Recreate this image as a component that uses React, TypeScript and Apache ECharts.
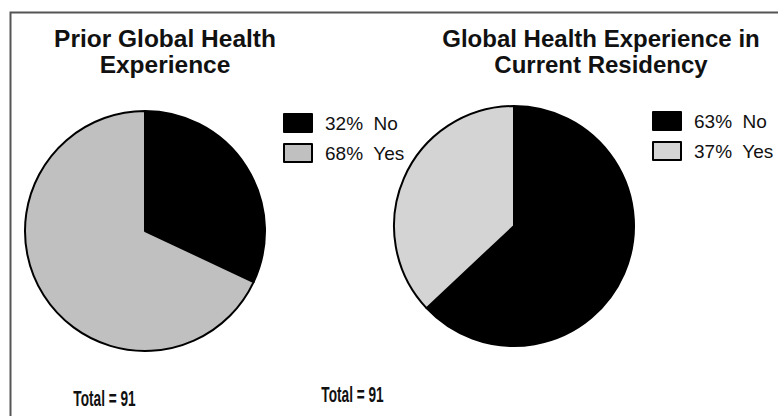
import React, { useEffect, useRef } from "react";
import * as echarts from "echarts";

const titles = ["Prior Global Health\nExperience", "Global Health Experience in\nCurrent Residency"];
const categories = ["No", "Yes"];
const priorPct = [32, 68];
const residencyPct = [63, 37];
const totals = [91, 91];
const priorColors = ["#000000", "#c0c0c0"];
const residencyColors = ["#000000", "#d4d4d4"];

const FONT = "'Liberation Sans', Arial, Helvetica, sans-serif";

function makeData(pcts: number[], colors: string[]) {
  return categories.map((c, i) => ({
    name: `${pcts[i]}%  ${c}`,
    value: pcts[i],
    itemStyle: { color: colors[i] },
  }));
}

export default function App() {
  const ref = useRef<HTMLDivElement>(null);
  useEffect(() => {
    if (!ref.current) return;
    const chart = echarts.init(ref.current, null, { renderer: "svg" });
    const leftData = makeData(priorPct, priorColors);
    const rightData = makeData(residencyPct, residencyColors);
    const titleStyle = {
      fontFamily: FONT,
      fontWeight: "bold" as const,
      fontSize: 24,
      lineHeight: 26,
      color: "#111",
    };
    const legendBase = {
      orient: "vertical" as const,
      icon: "rect",
      itemWidth: 28,
      itemHeight: 18,
      itemGap: 10,
      padding: 0,
      selectedMode: false,
      textStyle: { fontFamily: FONT, fontSize: 19, lineHeight: 19, color: "#111", padding: [0, 0, 0, 8] },
    };
    const seriesBase = {
      type: "pie" as const,
      radius: 120,
      startAngle: 90,
      clockwise: true,
      label: { show: false },
      labelLine: { show: false },
      emphasis: { disabled: true },
      itemStyle: { borderColor: "#000", borderWidth: 2 },
    };
    chart.setOption({
      animation: false,
      backgroundColor: "#ffffff",
      title: [
        { text: titles[0], left: 165, top: 25, textAlign: "center", padding: 0, textStyle: { ...titleStyle, fontSize: 24.5 } },
        { text: titles[1], left: 601, top: 25, textAlign: "center", padding: 0, textStyle: titleStyle },
      ],
      legend: [
        { ...legendBase, left: 283, top: 113, data: leftData.map((d) => d.name) },
        { ...legendBase, left: 652, top: 111, data: rightData.map((d) => d.name) },
      ],
      series: [
        { ...seriesBase, name: "Prior", center: [145, 231], data: leftData },
        { ...seriesBase, name: "Residency", center: [514, 226], data: rightData },
      ],
      graphic: [
        {
          type: "rect",
          shape: { x: 10.5, y: 12.5, width: 800, height: 420 },
          style: { fill: "none", stroke: "#555", lineWidth: 2 },
          silent: true,
        },
        {
          type: "text",
          x: 104.5,
          y: 398,
          scaleX: 0.62,
          style: {
            text: `Total = ${totals[0]}`,
            fontFamily: FONT,
            fontWeight: "bold",
            fontSize: 22,
            fill: "#111",
            textAlign: "center",
            textVerticalAlign: "middle",
          },
        },
        {
          type: "text",
          x: 352.5,
          y: 394,
          scaleX: 0.62,
          style: {
            text: `Total = ${totals[1]}`,
            fontFamily: FONT,
            fontWeight: "bold",
            fontSize: 22,
            fill: "#111",
            textAlign: "center",
            textVerticalAlign: "middle",
          },
        },
      ],
    });
    return () => chart.dispose();
  }, []);
  return (
    <div
      ref={ref}
      style={{ position: "absolute", left: 0, top: 0, width: 778, height: 416 }}
    />
  );
}
